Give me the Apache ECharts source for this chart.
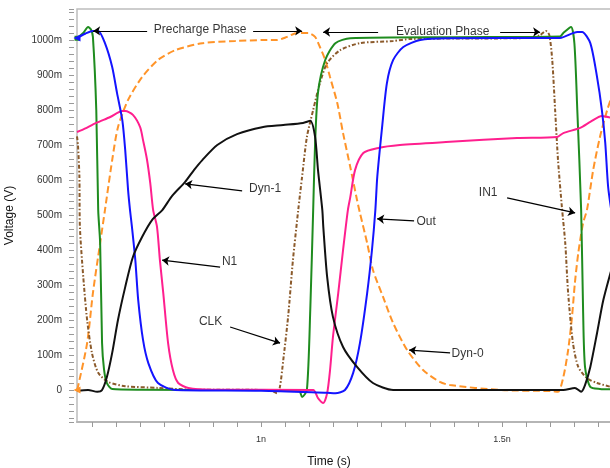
<!DOCTYPE html>
<html><head><meta charset="utf-8">
<script src="https://cdn.jsdelivr.net/npm/echarts@6/dist/echarts.min.js"></script>
<style>html,body{margin:0;padding:0;background:#fff}#c{width:610px;height:468px}</style>
</head><body><div id="c"></div>
<script>
// time in ns, voltage in mV
const in1 = [[0.618,1005],[0.631,1020],[0.641,1037],[0.647,1030],[0.651,1009],[0.658,800],[0.662,514],[0.666,420],[0.670,134],[0.674,60],[0.680,20],[0.691,3],[0.75,1],[1.0,0],[1.078,0],[1.085,-20],[1.095,0],[1.102,230],[1.108,514],[1.112,705],[1.118,850],[1.133,943],[1.154,991],[1.185,1005],[1.4,1008],[1.620,1010],[1.627,1020],[1.643,1037],[1.650,990],[1.656,800],[1.664,514],[1.668,229],[1.672,66],[1.683,9],[1.703,3],[1.728,2]];
const out = [[0.618,1006],[0.635,1018],[0.651,1026],[0.662,1026],[0.676,991],[0.691,923],[0.701,849],[0.712,771],[0.718,686],[0.724,571],[0.728,514],[0.732,466],[0.739,371],[0.745,257],[0.755,143],[0.766,77],[0.786,20],[0.822,0],[1.0,-2],[1.137,-8],[1.154,-9],[1.174,0],[1.191,49],[1.205,134],[1.220,277],[1.230,400],[1.237,514],[1.241,609],[1.251,751],[1.261,877],[1.274,943],[1.295,980],[1.330,1000],[1.386,1005],[1.620,1006],[1.656,1023],[1.666,1023],[1.683,991],[1.697,894],[1.707,800],[1.714,706],[1.720,580],[1.728,500]];
const n1 = [[0.618,737],[0.629,743],[0.658,763],[0.687,780],[0.712,797],[0.718,797],[0.734,786],[0.749,751],[0.755,714],[0.763,660],[0.770,591],[0.776,514],[0.784,466],[0.790,371],[0.797,277],[0.807,134],[0.817,57],[0.828,20],[0.849,6],[0.9,1],[1.108,0],[1.118,-23],[1.129,-37],[1.137,-9],[1.143,57],[1.149,151],[1.160,277],[1.170,400],[1.180,514],[1.185,551],[1.195,629],[1.212,677],[1.241,691],[1.288,700],[1.392,709],[1.531,720],[1.614,723],[1.627,734],[1.662,749],[1.683,766],[1.707,783],[1.728,777]];
const dyn1 = [[0.618,-3],[0.641,0],[0.660,-5],[0.670,0],[0.680,37],[0.691,106],[0.703,200],[0.718,294],[0.734,380],[0.753,437],[0.774,486],[0.795,514],[0.815,554],[0.842,594],[0.861,629],[0.878,657],[0.909,700],[0.950,731],[1.002,751],[1.046,757],[1.087,763],[1.102,769],[1.112,723],[1.118,629],[1.127,514],[1.129,466],[1.137,323],[1.149,209],[1.170,123],[1.199,66],[1.232,20],[1.274,0],[1.627,0],[1.651,6],[1.664,-5],[1.672,14],[1.683,66],[1.697,163],[1.710,257],[1.728,350]];
const dyn0 = [[0.618,0],[0.620,9],[0.639,134],[0.651,277],[0.666,420],[0.676,514],[0.691,657],[0.703,751],[0.724,829],[0.753,894],[0.786,943],[0.822,971],[0.878,991],[0.946,997],[1.008,1000],[1.033,1000],[1.054,1009],[1.075,1020],[1.098,1020],[1.112,1009],[1.122,980],[1.133,943],[1.143,894],[1.158,820],[1.170,734],[1.185,637],[1.199,543],[1.205,506],[1.220,420],[1.232,343],[1.253,266],[1.274,191],[1.303,114],[1.336,57],[1.371,23],[1.392,14],[1.496,0],[1.600,-3],[1.616,-5],[1.627,37],[1.637,114],[1.645,209],[1.651,306],[1.658,391],[1.668,477],[1.676,514],[1.689,629],[1.703,723],[1.718,800],[1.728,840]];
const clk = [[0.618,725],[0.620,700],[0.623,609],[0.624,466],[0.631,323],[0.639,200],[0.649,106],[0.662,49],[0.683,23],[0.718,11],[0.786,6],[0.857,1],[1.019,0],[1.033,-9],[1.039,9],[1.046,86],[1.056,209],[1.066,371],[1.077,514],[1.085,609],[1.095,723],[1.108,800],[1.122,877],[1.137,934],[1.164,971],[1.205,991],[1.274,997],[1.309,1003],[1.560,1006],[1.579,1014],[1.591,1026],[1.598,1014],[1.604,943],[1.610,800],[1.616,657],[1.624,523],[1.631,420],[1.637,277],[1.647,134],[1.658,66],[1.676,34],[1.697,20],[1.728,8]];

const xTickValues = [0.65,0.7,0.75,0.8,0.85,0.9,0.95,1.0,1.05,1.1,1.15,1.2,1.25,1.3,1.35,1.4,1.45,1.5,1.55,1.6,1.65,1.7];
const xLabelValues = [1, 1.5];
const xLabelText = {1: '1n', 1.5: '1.5n'};

// annotation texts (centre) and arrows (from -> to)
const noteTexts = [
  ['Precharge Phase', 0.8734, 1029],
  ['Evaluation Phase', 1.3766, 1023],
  ['Dyn-1', 1.0083, 574],
  ['N1', 0.9346, 366],
  ['CLK', 0.8952, 194],
  ['Out', 1.3423, 480],
  ['Dyn-0', 1.4284, 105],
  ['IN1', 1.4710, 563]
];
const noteArrows = [
  [[0.7635,1026],[0.6515,1026]],
  [[0.9834,1026],[1.0851,1026]],
  [[1.2427,1023],[1.1286,1023]],
  [[1.4959,1023],[1.5788,1023]],
  [[0.9606,569],[0.8423,589]],
  [[0.9149,351],[0.7946,371]],
  [[0.9357,180],[1.0394,134]],
  [[1.3174,483],[1.2407,489]],
  [[1.3921,106],[1.3071,114]],
  [[1.5104,549],[1.6515,506]]
];

const FONT = "'Liberation Sans', Arial, sans-serif";
const chart = echarts.init(document.getElementById('c'));
function lineSeries(name, data, color, type, startMark) {
  const s = {
    name, type: 'line', data, showSymbol: false, smooth: 0.25,
    lineStyle: { color, width: 2, type: type || 'solid' },
    itemStyle: { color }, z: 3
  };
  if (startMark) {
    s.markPoint = {
      silent: true, symbol: startMark.symbol, symbolSize: startMark.size, symbolRotate: startMark.rotate || 0,
      itemStyle: { color }, label: { show: false },
      data: [{ coord: data[0] }]
    };
  }
  return s;
}
chart.setOption({
  animation: false,
  backgroundColor: '#fff',
  grid: { left: 77, top: 9, right: -2, bottom: 46, show: true, borderColor: '#bdbdbd', borderWidth: 1.5, outerBoundsMode: 'none', containLabel: false },
  xAxis: {
    type: 'value', min: 0.618, max: 1.728,
    name: 'Time (s)', nameLocation: 'middle', nameGap: 34,
    nameTextStyle: { fontSize: 12, color: '#111', fontFamily: FONT, padding: [0, 31, 0, 0] },
    axisLine: { show: true, onZero: false, lineStyle: { color: '#b5b5b5', width: 2 } },
    axisTick: { show: true, length: 5, customValues: xTickValues, lineStyle: { color: '#999' } },
    axisLabel: { customValues: xLabelValues, formatter: v => xLabelText[v] || '', fontSize: 9, color: '#333', fontFamily: FONT, margin: 13 },
    splitLine: { show: false }
  },
  yAxis: {
    type: 'value', min: -91.4, max: 1088.6, splitNumber: 12, offset: 3,
    name: 'Voltage (V)', nameLocation: 'middle', nameGap: 58,
    nameTextStyle: { fontSize: 12, color: '#111', fontFamily: FONT },
    axisLine: { show: false },
    axisTick: { show: true, length: 5, lineStyle: { color: '#999' } },
    minorTick: { show: true, splitNumber: 5, length: 5, lineStyle: { color: '#999' } },
    axisLabel: { showMinLabel: false, showMaxLabel: false, formatter: v => v === 0 ? '0' : Math.round(v) + 'm', fontSize: 10, color: '#333', fontFamily: FONT, margin: 12 },
    splitLine: { show: false }
  },
  series: [
    lineSeries('Dyn-0', dyn0, '#ff9429', [7, 3.5], { symbol: 'triangle', size: 7, rotate: 90 }),
    lineSeries('CLK', clk, '#8b5a2b', [4, 2, 1.5, 2]),
    lineSeries('IN1', in1, '#1f8c1f', null, { symbol: 'rect', size: 5 }),
    lineSeries('N1', n1, '#ff1f8e'),
    lineSeries('Out', out, '#1414ff', null, { symbol: 'triangle', size: 7, rotate: 90 }),
    lineSeries('Dyn-1', dyn1, '#111111'),
    {
      type: 'scatter', symbolSize: 0, z: 5,
      data: noteTexts.map(n => ({ name: n[0], value: [n[1], n[2]] })),
      label: { show: true, position: 'inside', formatter: p => p.name, color: '#000', fontSize: 12, fontFamily: FONT },
      markLine: {
        silent: true, symbol: ['none', 'arrow'], symbolSize: 7, precision: 4,
        lineStyle: { color: '#000', width: 1.2, type: 'solid' },
        label: { show: false },
        data: noteArrows.map(a => [{ coord: a[0] }, { coord: a[1] }])
      }
    }
  ]
});
</script></body></html>
